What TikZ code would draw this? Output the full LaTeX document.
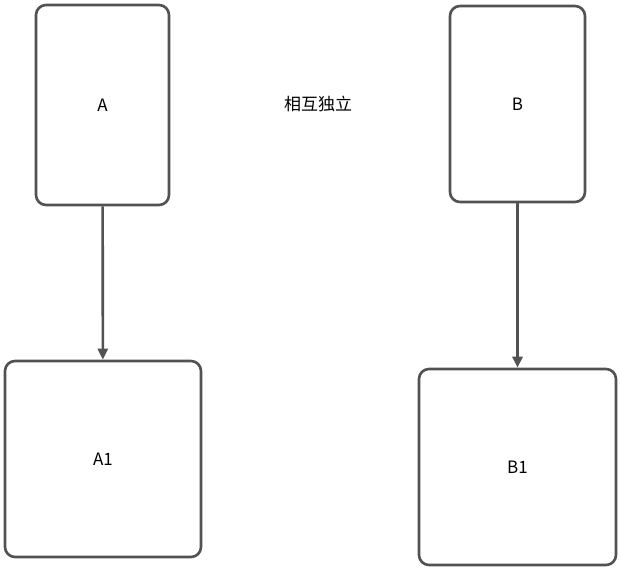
\documentclass[tikz,border=0pt]{standalone}
\usepackage{fontspec}
\setmainfont{Noto Sans CJK SC}
\usetikzlibrary{arrows.meta}
\begin{document}
\begin{tikzpicture}[x=1pt,y=-1pt,
  box/.style={draw=black!68,line width=2.6pt,rounded corners=10pt,inner sep=0pt,font=\fontsize{17}{20}\selectfont},
  arr/.style={draw=black!68,line width=2.6pt,-{Triangle[length=11pt,width=10pt]}}]
\useasboundingbox (0,0) rectangle (621,570);
\node[box,minimum width=133pt,minimum height=200pt] (A) at (102.5,105) {A};
\node[box,minimum width=135pt,minimum height=196pt] (B) at (517.5,104) {B};
\node[box,minimum width=196pt,minimum height=196pt] (A1) at (103,459) {A1};
\node[box,minimum width=197pt,minimum height=196pt] (B1) at (517.5,467) {B1};
\node[font=\fontsize{17}{20}\selectfont] (t) at (318,104) {相互独立};
\draw[arr] (A) -- (A1);
\draw[arr] (B) -- (B1);
\end{tikzpicture}
\end{document}
